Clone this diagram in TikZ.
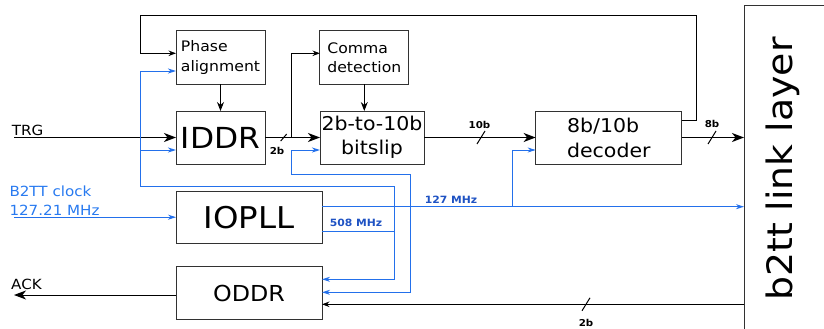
\documentclass[tikz,border=0pt]{standalone}
\usepackage{fontspec}
\setmainfont{DejaVu Sans}[FakeStretch=1.08]
\usetikzlibrary{arrows.meta,calc}
\definecolor{clk}{RGB}{35,112,235}
\definecolor{clktxt}{RGB}{40,122,240}
\definecolor{clklbl}{RGB}{30,82,195}
\definecolor{bord}{RGB}{50,50,50}
\begin{document}
\begin{tikzpicture}[x=1pt,y=-1pt,
  blk/.style={draw=bord, line width=1pt, inner sep=1pt, outer sep=0pt},
  ln/.style={line width=1pt, draw=black},
  tipL/.tip={Stealth[length=12pt,width=9pt,inset=3.5pt]},
  tipM/.tip={Stealth[length=9pt,width=7pt,inset=3pt]},
  tipS/.tip={Stealth[length=7.5pt,width=5.5pt,inset=2.5pt]},
  tipB/.tip={Stealth[length=8pt,width=5pt,inset=2.5pt]},
  data/.style={line width=1.4pt, draw=black, -tipL},
  clkarr/.style={line width=1pt, draw=clk, -tipB},
  clkln/.style={line width=1pt, draw=clk},
  slash/.style={line width=1pt, draw=black},
  bitlbl/.style={font=\fontsize{9.5}{11}\selectfont\bfseries, inner sep=0pt},
  clklabel/.style={font=\fontsize{10}{12}\selectfont\bfseries, text=clklbl, inner sep=0pt},
  sidelbl/.style={font=\fontsize{14}{19}\selectfont, inner sep=0pt, anchor=base west}
]
\useasboundingbox (0,0) rectangle (824,329);

% blocks
\node[blk, minimum width=89, minimum height=53, align=left, font=\fontsize{14.5}{19.5}\selectfont] (pa) at (220.5,57.5) {Phase\\alignment};
\node[blk, minimum width=88.7, minimum height=53, align=left, font=\fontsize{14.5}{19.5}\selectfont] (cd) at (364.3,57.5) {Comma\\detection};
\node[blk, minimum width=89, minimum height=53, font=\fontsize{29}{34}\selectfont] (iddr) at (220.5,137.5) {IDDR};
\node[blk, minimum width=104, minimum height=53, align=center, font=\fontsize{19}{23.5}\selectfont] (bs) at (372,137.5) {2b-to-10b\\bitslip};
\node[blk, minimum width=146.3, minimum height=53, align=left, font=\fontsize{19}{25}\selectfont] (dec) at (608.8,137.5) {8b/10b\\decoder};
\node[blk, minimum width=146.3, minimum height=52.3, font=\fontsize{30}{36}\selectfont] (iopll) at (249.2,217.2) {IOPLL};
\node[blk, minimum width=146, minimum height=52.6, font=\fontsize{22}{27}\selectfont] (oddr) at (249,293) {ODDR};
\node[blk, minimum width=100, minimum height=340] (b2tt) at (794,176) {};
\node[rotate=90, anchor=base, inner sep=0pt, font=\fontsize{35}{40}\selectfont] (b2ttl) at (792,169) {b2tt link layer};

% side labels
\node[sidelbl] (trgl) at (11.7,135.3) {TRG};
\node[sidelbl, text=clktxt] (clkl1) at (9.3,196) {B2TT clock};
\node[sidelbl, text=clktxt] (clkl2) at (9.3,215) {127.21 MHz};
\node[sidelbl] (ackl) at (11,289) {ACK};

% coordinates
\coordinate (trgin) at (14,137.5);
\coordinate (sp) at (291,137.5);
\coordinate (s1) at (283.7,137.5);
\coordinate (s2) at (481,137.5);
\coordinate (s3) at (712,137.5);
\coordinate (ret) at (586,304.3);
\coordinate (ackout) at (14,295);
\coordinate (clkin) at (14,217.2);
\coordinate (c508) at (394.7,231.7);
\coordinate (cA) at (140,150);
\coordinate (c127) at (512.7,206.7);
\coordinate (cB) at (410,206.7);

% data path
\draw[data] (trgin) -- (iddr.west);
\draw[data] (iddr.east) -- (bs.west);
\draw[data] (bs.east) -- (dec.west);
\draw[data] (dec.east) -- (b2tt.west |- dec.east);
\draw[ln,-tipS] (sp) |- ([yshift=4.2pt]cd.west);
\draw[ln,-tipM] (pa.south) -- (iddr.north);
\draw[ln,-tipM] (cd.south) -- (cd.south |- bs.north);
\draw[ln,-tipS] ([yshift=-9pt]dec.north east) -| (696.7,16) -| (140,53.3) -- ([yshift=4.2pt]pa.west);
\draw[ln,-tipS] (b2tt.west |- ret) -- (oddr.east |- ret);
\draw[ln,-tipL] (oddr.west |- ackout) -- (ackout);

% bus slashes
\draw[slash] (s1) ++(-3,3.5) -- ++(6,-7);
\draw[slash] (s2) ++(-4,6.5) -- ++(8,-13);
\draw[slash] (s3) ++(-4,6.5) -- ++(8,-13);
\draw[slash] (ret) ++(-4,6.5) -- ++(8,-13);
\node[bitlbl] (l2a) at (277,150.7) {2b};
\node[bitlbl] (l10b) at (479.5,124.5) {10b};
\node[bitlbl] (l8b) at (712,124.3) {8b};
\node[bitlbl] (l2b) at (586,323) {2b};

% clocks
\draw[clkarr] (clkin) -- (iopll.west);
\draw[clkarr] (iopll.east |- c508) -- (c508) -- (394.7,186) -| (140,71) -- ([yshift=-13.5pt]pa.west);
\draw[clkarr] (cA) -- ([yshift=-12.5pt]iddr.west);
\draw[clkarr] (c508) |- ([yshift=13.7pt]oddr.east);
\draw[clkarr] ([yshift=10.5pt]iopll.east) -- (b2tt.west |- c127);
\draw[clkarr] (c127) |- ([yshift=-12.5pt]dec.west);
\draw[clkarr] (cB) -- (410,174) -| (291,150) -- ([yshift=-12.5pt]bs.west);
\draw[clkarr] (cB) |- ([yshift=0.7pt]oddr.east);
\node[clklabel] (l127) at (451,199.8) {127 MHz};
\node[clklabel] (l508) at (356,222.8) {508 MHz};
\end{tikzpicture}
\end{document}
